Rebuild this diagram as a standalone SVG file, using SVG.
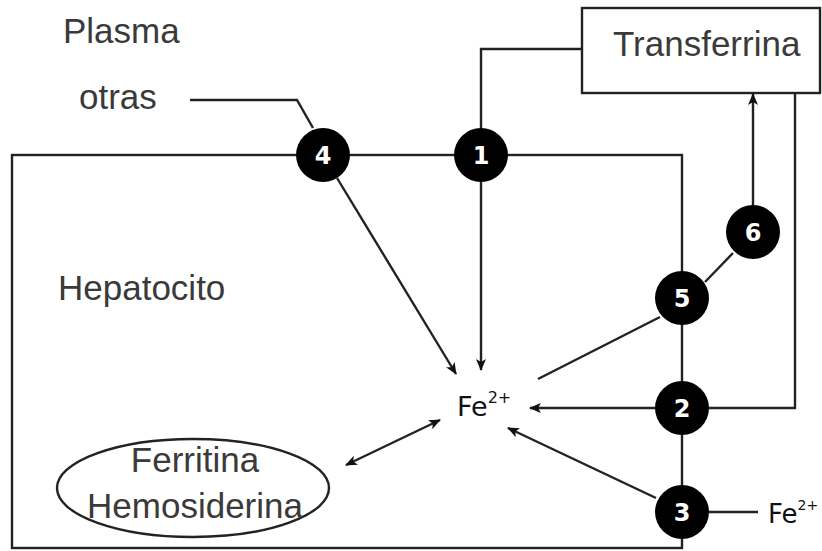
<svg xmlns="http://www.w3.org/2000/svg" width="822" height="551" viewBox="0 0 822 551">
<defs>
<marker id="ah" viewBox="0 0 12 10" refX="11" refY="5" markerWidth="12" markerHeight="10" markerUnits="userSpaceOnUse" orient="auto-start-reverse">
<path d="M0,0 L12,5 L0,10 L3,5 Z" fill="#111"/>
</marker>
</defs>
<style>
.ln{fill:none;stroke:#222;stroke-width:2.4}
.lbl{font-family:"Liberation Sans",Arial,sans-serif;font-size:35px;fill:#3a3a3a}
.fe{font-family:"DejaVu Sans",Verdana,sans-serif;fill:#111}
.num{font-family:"DejaVu Sans",Verdana,sans-serif;font-size:24px;font-weight:bold;fill:#fff;text-anchor:middle}
.dot{fill:#000}
</style>
<rect width="822" height="551" fill="#fff"/>
<g id="hepatocito">
<rect x="12" y="155" width="670" height="393" class="ln"/>
<text x="58" y="300" class="lbl">Hepatocito</text>
</g>
<g id="plasma"><text x="63" y="43" class="lbl">Plasma</text></g>
<g id="otras"><text x="79" y="109" class="lbl">otras</text></g>
<g id="transferrina">
<rect x="582" y="8" width="238" height="85" class="ln" fill="#fff"/>
<text x="613" y="56" class="lbl">Transferrina</text>
</g>
<g id="ferritina">
<ellipse cx="193" cy="488" rx="136" ry="49" class="ln"/>
<text x="195" y="472" class="lbl" text-anchor="middle">Ferritina</text>
<text x="195" y="518" class="lbl" text-anchor="middle">Hemosiderina</text>
</g>
<g id="fe-central"><text x="457" y="416" class="fe" font-size="27">Fe<tspan font-size="16" dy="-13">2+</tspan></text></g>
<g id="fe-ext"><text x="768" y="523" class="fe" font-size="26">Fe<tspan font-size="14" dy="-13">2+</tspan></text></g>
<g id="connectors">
<polyline class="ln" points="190,100 297,100 313,128"/>
<line class="ln" x1="337" y1="178" x2="456" y2="374" marker-end="url(#ah)"/>
<polyline class="ln" points="582,49 481,49 481,370" marker-end="url(#ah)"/>
<line class="ln" x1="753" y1="205" x2="753" y2="94" marker-end="url(#ah)"/>
<line class="ln" x1="733" y1="253" x2="705" y2="282"/>
<line class="ln" x1="660" y1="317" x2="538" y2="379"/>
<polyline class="ln" points="795,93 795,408 655,408 530,408" marker-end="url(#ah)"/>
<line class="ln" x1="656" y1="498" x2="508" y2="428" marker-end="url(#ah)"/>
<line class="ln" x1="709" y1="512" x2="758" y2="512"/>
<line class="ln" x1="440" y1="420" x2="346" y2="465" marker-start="url(#ah)" marker-end="url(#ah)"/>
</g>
<g id="n4"><circle class="dot" cx="323" cy="155" r="27"/><text class="num" x="323" y="164">4</text></g>
<g id="n1"><circle class="dot" cx="481" cy="155" r="27"/><text class="num" x="481" y="164">1</text></g>
<g id="n6"><circle class="dot" cx="753" cy="232" r="27"/><text class="num" x="753" y="241">6</text></g>
<g id="n5"><circle class="dot" cx="682" cy="298" r="27"/><text class="num" x="682" y="307">5</text></g>
<g id="n2"><circle class="dot" cx="682" cy="408" r="27"/><text class="num" x="682" y="417">2</text></g>
<g id="n3"><circle class="dot" cx="682" cy="512" r="27"/><text class="num" x="682" y="521">3</text></g>
</svg>
